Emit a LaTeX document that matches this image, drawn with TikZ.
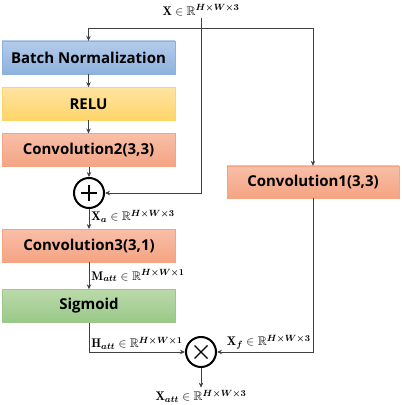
\documentclass[tikz,border=0pt]{standalone}
\usepackage{amsmath,amssymb,bm}
\usepackage{fontspec}
\newfontfamily\boxfont{Open Sans}
\usetikzlibrary{positioning, arrows.meta, calc}

\definecolor{bntop}{HTML}{B4CCEA}
\definecolor{bnbot}{HTML}{8DB1DE}
\definecolor{relutop}{HTML}{FFE4A2}
\definecolor{relubot}{HTML}{FFD568}
\definecolor{convtop}{HTML}{F9BEA8}
\definecolor{convbot}{HTML}{F4A483}
\definecolor{sigtop}{HTML}{BADAAA}
\definecolor{sigbot}{HTML}{9AC888}
\definecolor{wire}{HTML}{404040}

\newcommand{\shp}[1]{\mathbb{R}^{\bm{H\times W\times #1}}}

\begin{document}
\begin{tikzpicture}[x=1pt, y=1pt,
    block/.style={rectangle, minimum width=173pt, minimum height=33pt, text centered, inner sep=0pt, font=\boxfont\bfseries\fontsize{15}{17}\selectfont},
    bnbox/.style={block, top color=bntop, bottom color=bnbot, draw=bnbot, line width=0.3pt},
    relubox/.style={block, top color=relutop, bottom color=relubot, draw=relubot, line width=0.3pt},
    convbox/.style={block, top color=convtop, bottom color=convbot, draw=convbot, line width=0.3pt},
    sigbox/.style={block, top color=sigtop, bottom color=sigbot, draw=sigbot, line width=0.3pt},
    op/.style={circle, draw=black, line width=2pt, minimum size=30pt, inner sep=0pt},
    lbl/.style={font=\fontsize{12.5}{14}\selectfont, inner sep=2pt},
    arrow/.style={draw=wire, line width=0.8pt, -{Stealth[length=5pt, width=4.5pt]}},
]
\useasboundingbox (0,0) rectangle (402,405);

% Input
\node[lbl] (xin) at (201,395) {$\mathbf{X}\in\shp{3}$};
\coordinate (split) at (201,377);

% Left branch
\node[bnbox] (bn) at (88.5,347.5) {Batch Normalization};
\node[relubox, below=13pt of bn] (relu) {RELU};
\node[convbox, below=13pt of relu] (conv2) {Convolution2(3,3)};
\node[op] (plus) at (89,212) {};
\draw[line width=1.2pt] ($(plus)+(-8,0)$) -- ($(plus)+(8,0)$) ($(plus)+(0,-8)$) -- ($(plus)+(0,8)$);
\node[convbox, below=20pt of plus] (conv3) {Convolution3(3,1)};
\node[sigbox, below=27pt of conv3] (sig) {Sigmoid};

% Right branch
\node[convbox, minimum width=172pt, minimum height=32pt] (conv1) at (313,223) {Convolution1(3,3)};

% Product
\node[op] (times) at (201,53) {};
\draw[line width=1.2pt] ($(times)+(-6.5,-6.5)$) -- ($(times)+(6.5,6.5)$) ($(times)+(-6.5,6.5)$) -- ($(times)+(6.5,-6.5)$);
\node[lbl] (xatt) at (201,9) {$\mathbf{X}_{\bm{att}}\in\shp{3}$};

% Connections
\draw[arrow] (xin.south) |- (plus.east);
\draw[arrow] (split) -| (bn.north);
\draw[arrow] (split) -| (conv1.north);
\draw[arrow] (bn) -- (relu);
\draw[arrow] (relu) -- (conv2);
\draw[arrow] (conv2.south -| plus) -- (plus.north);
\draw[arrow] (plus.south) -- node[lbl, right, pos=0.35] {$\mathbf{X}_{\bm{a}}\in\shp{3}$} (conv3.north -| plus);
\draw[arrow] (conv3.south -| plus) -- node[lbl, right] {$\mathbf{M}_{\bm{att}}\in\shp{1}$} (sig.north -| plus);
\draw[arrow] (sig.south -| plus) |- node[lbl, above right, pos=0.5] {$\mathbf{H}_{\bm{att}}\in\shp{1}$} (times.west);
\draw[arrow] (conv1.south) |- node[lbl, above left, pos=0.5] {$\mathbf{X}_{\bm{f}}\in\shp{3}$} (times.east);
\draw[arrow] (times.south) -- (xatt.north);

\end{tikzpicture}
\end{document}
